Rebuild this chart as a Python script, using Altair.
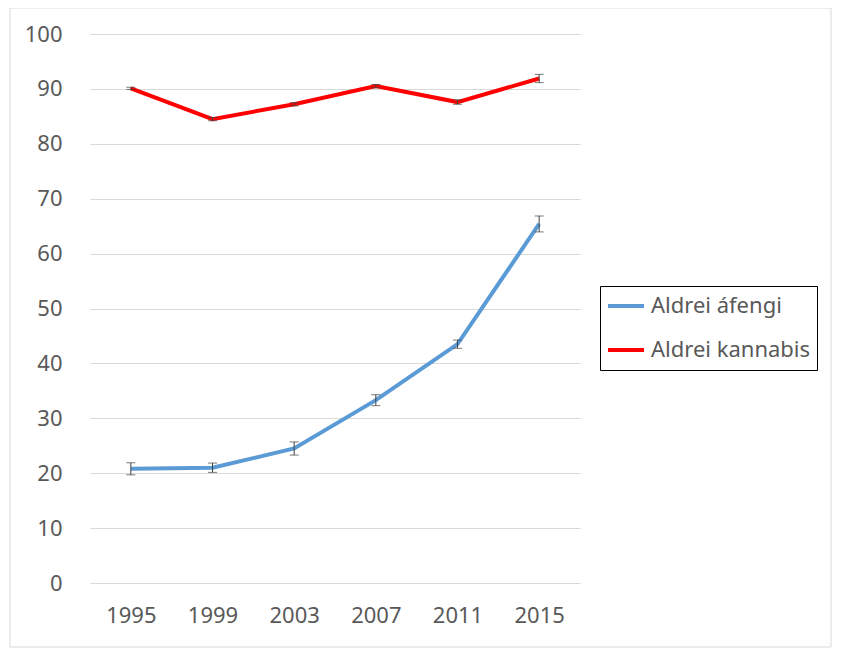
import altair as alt
import pandas as pd

years = ["1995", "1999", "2003", "2007", "2011", "2015"]
series_names = ["Aldrei áfengi", "Aldrei kannabis"]
alcohol = [20.8, 21.0, 24.5, 33.3, 43.5, 65.4]
alcohol_err = [1.1, 0.85, 1.2, 1.0, 0.75, 1.45]
cannabis = [90.1, 84.5, 87.2, 90.5, 87.6, 91.9]
cannabis_err = [0.2, 0.3, 0.3, 0.3, 0.4, 0.75]
colors = ["#5B9BD5", "#FF0000"]

rows = []
for name, vals, errs in [(series_names[0], alcohol, alcohol_err), (series_names[1], cannabis, cannabis_err)]:
    for y, v, e in zip(years, vals, errs):
        rows.append({"year": y, "series": name, "value": v, "lo": v - e, "hi": v + e})
df = pd.DataFrame(rows)

FONT = "Noto Sans"
W, H = 490, 549

x_enc = alt.X("year:O", sort=years, scale=alt.Scale(type="point", padding=0.5),
              axis=alt.Axis(title=None, labelAngle=0, labelFontSize=22, labelColor="#595959",
                            labelFont=FONT, ticks=False, domain=False, grid=False, labelPadding=22))
y_scale = alt.Scale(domain=[0, 100], nice=False, zero=True)

frame = alt.Chart(pd.DataFrame({"a": [0]})).mark_rect(
    fillOpacity=0, stroke="#D9D9D9", strokeWidth=1
).encode(x=alt.value(-80), x2=alt.value(741), y=alt.value(-26), y2=alt.value(613))

base = alt.Chart(df)

lines = base.mark_line(strokeWidth=4).encode(
    x=x_enc,
    y=alt.Y("value:Q", scale=y_scale,
            axis=alt.Axis(title=None, values=list(range(0, 101, 10)), labelFontSize=22,
                          labelColor="#595959", labelFont=FONT, ticks=False, domain=False,
                          gridColor="#D9D9D9", gridWidth=1, labelPadding=28)),
    color=alt.Color("series:N", sort=series_names,
                    scale=alt.Scale(domain=series_names, range=colors),
                    legend=alt.Legend(title=None, orient="none", legendX=510, legendY=252,
                                      strokeColor="#000000", padding=6, symbolType="stroke",
                                      symbolStrokeWidth=4, symbolSize=1296, clipHeight=28,
                                      labelOffset=5, labelFontSize=22,
                                      labelFont=FONT, labelColor="#595959", rowPadding=16,
                                      labelLimit=300)),
)

rules = base.mark_rule(color="#404040", strokeWidth=1).encode(
    x=alt.X("year:O", sort=years), y=alt.Y("lo:Q", scale=y_scale), y2="hi:Q")
tick_lo = base.mark_tick(color="#404040", thickness=1, size=9, orient="horizontal").encode(
    x=alt.X("year:O", sort=years), y=alt.Y("lo:Q", scale=y_scale))
tick_hi = base.mark_tick(color="#404040", thickness=1, size=9, orient="horizontal").encode(
    x=alt.X("year:O", sort=years), y=alt.Y("hi:Q", scale=y_scale))

chart = alt.layer(frame, lines, rules, tick_lo, tick_hi).properties(
    width=W, height=H,
    autosize=alt.AutoSizeParams(type="none"),
    padding={"left": 82, "top": 26, "right": 254, "bottom": 72},
).configure(background="white", view=alt.ViewConfig(stroke="transparent", strokeWidth=0))

chart.save("out.html", embed_options={"renderer": "svg", "actions": False})
